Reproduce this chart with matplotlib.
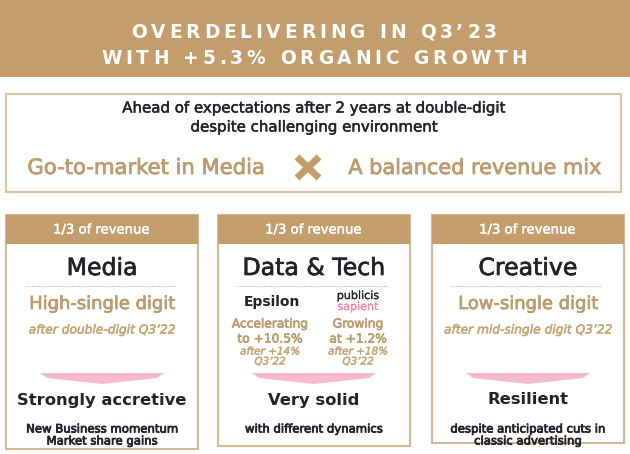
import matplotlib
matplotlib.use("Agg")
import matplotlib.pyplot as plt
from matplotlib.patches import Rectangle, Polygon
from matplotlib.font_manager import findfont, FontProperties
from matplotlib.ft2font import FT2Font
import matplotlib.patheffects as pe

# ---- data ----
title_lines = ["OVERDELIVERING IN Q3’23", "WITH +5.3% ORGANIC GROWTH"]
intro_lines = ["Ahead of expectations after 2 years at double-digit",
               "despite challenging environment"]
pillars = ["Go-to-market in Media", "A balanced revenue mix"]
card_headers = ["1/3 of revenue", "1/3 of revenue", "1/3 of revenue"]
card_titles = ["Media", "Data & Tech", "Creative"]
card_growth = ["High-single digit", None, "Low-single digit"]
card_prior = ["after double-digit Q3’22", None, "after mid-single digit Q3’22"]
card_verdicts = ["Strongly accretive", "Very solid", "Resilient"]
card_notes = [["New Business momentum", "Market share gains"],
              ["with different dynamics"],
              ["despite anticipated cuts in", "classic advertising"]]
dt_brands = ["Epsilon", "publicis", "sapient"]
dt_growth = [["Accelerating", "to +10.5%"], ["Growing", "at +1.2%"]]
dt_prior = [["after +14%", "Q3’22"], ["after +18%", "Q3’22"]]

GOLD = "#C39E6C"
GOLD_TXT = "#BC9B6E"
GOLD_LIGHT = "#C5A578"
DARK = "#222228"
PINK = "#F7BACB"
FONT = "DejaVu Sans"

fig = plt.figure(figsize=(6.30, 4.54), dpi=100)
ax = fig.add_axes([0, 0, 1, 1])
ax.set_xlim(0, 630)
ax.set_ylim(454, 0)
ax.axis("off")


def medium(color, w=0.45):
    """Slight stroke to mimic a medium font weight."""
    return [pe.withStroke(linewidth=w, foreground=color)]


def txt(x, y, s, color, size, **kw):
    w = kw.pop("stroke", 0.45)
    eff = medium(color, w) if w else None
    return ax.text(x, y, s, color=color, fontsize=size, ha=kw.pop("ha", "center"),
                   va="center", family=FONT, path_effects=eff, **kw)


def tracked_text(s, cx, cy, size, width, **kw):
    """Draw letter-spaced text centred at cx, fitted to a total width (px)."""
    font = FT2Font(findfont(FontProperties(family=FONT, weight="bold")))
    font.set_size(size, 100)
    adv = [font.load_char(ord(c)).linearHoriAdvance / 65536.0 for c in s]
    track = (width - sum(adv)) / (len(s) - 1)
    x = cx - width / 2
    for c, a in zip(s, adv):
        ax.text(x, cy, c, fontsize=size, fontweight="bold", family=FONT,
                ha="left", va="center", **kw)
        x += a + track


# banner
ax.add_patch(Rectangle((0, 0), 630, 77, color=GOLD, lw=0))
tracked_text(title_lines[0], 314, 32.5, 13.4, 366, color="white")
tracked_text(title_lines[1], 314, 58.5, 13.4, 426, color="white")

# intro box
ax.add_patch(Rectangle((6, 94), 615, 98, fill=False, ec="#D8C3A3", lw=1.5))
txt(315, 108, intro_lines[0], DARK, 10.8, stroke=0.35)
txt(315, 127, intro_lines[1], DARK, 10.8, stroke=0.35)
txt(146, 168, pillars[0], GOLD_TXT, 15.2, stroke=0.55)
txt(475, 168, pillars[1], GOLD_TXT, 15, stroke=0.55)
ax.plot([297, 319], [157, 178], color=GOLD, lw=5, solid_capstyle="butt")
ax.plot([297, 319], [178, 157], color=GOLD, lw=5, solid_capstyle="butt")

cards_x = [6, 218, 432]
card_w = 192
card_bottoms = [449, 446, 443]
for i, x0 in enumerate(cards_x):
    cx = x0 + card_w / 2
    bot = card_bottoms[i]
    ax.add_patch(Rectangle((x0, 215), card_w, bot - 215, fill=False, ec="#D2B995", lw=1.5))
    ax.add_patch(Rectangle((x0, 215), card_w, 29, color=GOLD, lw=0))
    txt(cx, 230, card_headers[i], "white", 9.5, stroke=0.3)
    txt(cx, 268, card_titles[i], DARK, 17, stroke=0.5)
    ax.plot([x0 + 19, x0 + card_w - 23], [286, 286], color="#BBBBBB", lw=0.8, ls=(0, (1, 1)))
    if card_growth[i]:
        txt(cx, 304, card_growth[i], GOLD_TXT, 12.9, stroke=0.55)
        txt(cx, 330, card_prior[i], GOLD_LIGHT, 8.8, style="italic", stroke=0.4)
    # pink arrow
    ax.add_patch(Polygon([(cx - 62, 373), (cx + 62, 373), (cx + 55, 378), (cx, 384), (cx - 55, 378)],
                         closed=True, color=PINK, lw=0))
    txt(cx, 400, card_verdicts[i], DARK, 11.8, fontweight="bold", stroke=0)
    for j, t in enumerate(card_notes[i]):
        txt(cx, 429 + 12 * j, t, DARK, 8.4, stroke=0.55)

# Data & Tech sub-columns
col_x = [270, 358]
txt(col_x[0] + 2, 302, dt_brands[0], DARK, 10, fontweight="bold", stroke=0)
txt(col_x[1], 296, dt_brands[1], DARK, 8, stroke=0.2)
txt(col_x[1], 307, dt_brands[2], "#F08AA6", 8, stroke=0.2)
for k in range(2):
    txt(col_x[k], 324, dt_growth[k][0], GOLD_TXT, 8.8, stroke=0.5)
    txt(col_x[k], 339, dt_growth[k][1], GOLD_TXT, 8.8, stroke=0.5)
    txt(col_x[k], 351.5, dt_prior[k][0], GOLD_LIGHT, 7.5, style="italic", stroke=0.35)
    txt(col_x[k], 361.5, dt_prior[k][1], GOLD_LIGHT, 7.5, style="italic", stroke=0.35)

fig.savefig("out.png", dpi=100)
